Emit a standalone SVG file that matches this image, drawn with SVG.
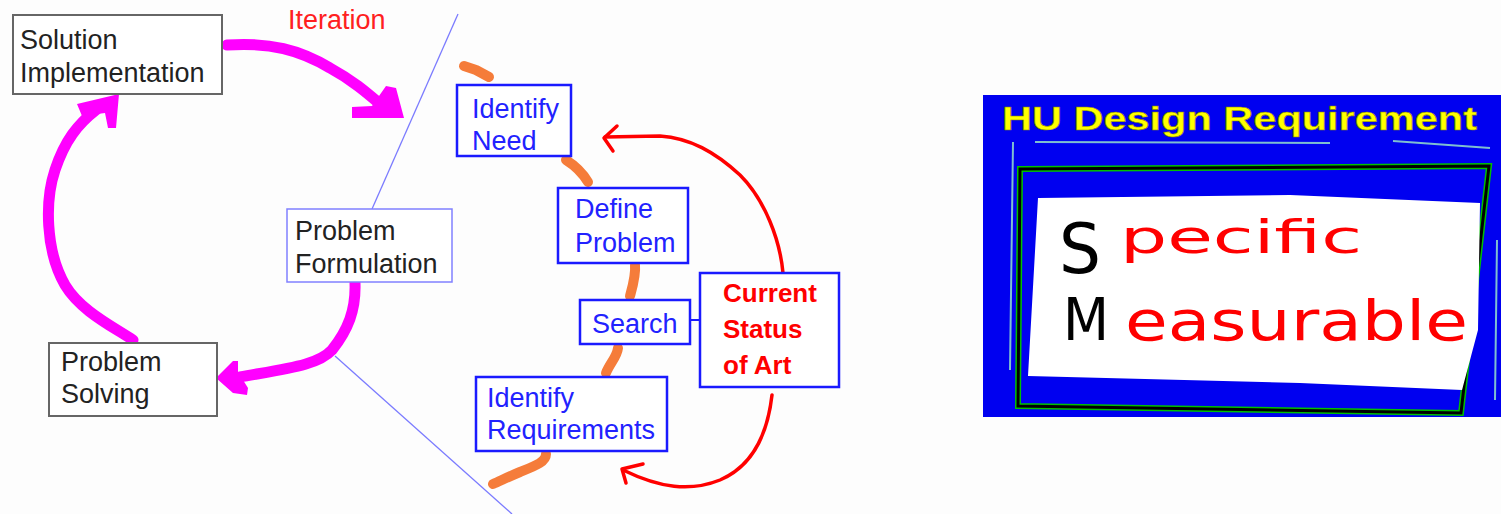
<svg xmlns="http://www.w3.org/2000/svg" width="1501" height="514" viewBox="0 0 1501 514">
<style>
.t{font-family:"Liberation Sans",Arial,sans-serif;font-size:27px}
.gray{fill:#fff;stroke:#666;stroke-width:2}
.blue{fill:#fff;stroke:#1a1aff;stroke-width:2.5}
.bt{fill:#2222ff}
.dk{fill:#222}
.rt{fill:#ff0000;font-weight:bold;font-size:26px}
.mag{fill:none;stroke:#ff00ff;stroke-width:11;stroke-linecap:round;stroke-linejoin:round}
.org{fill:none;stroke:#f57c3a;stroke-width:10;stroke-linecap:round;stroke-linejoin:round}
.red{fill:none;stroke:#ff0000;stroke-width:3.5;stroke-linecap:round;stroke-linejoin:round}
.div{stroke:#7b7bff;stroke-width:1.3;fill:none}
.hand{font-family:"DejaVu Sans","Liberation Sans",sans-serif}
</style>
<rect width="1501" height="514" fill="#fdfdfd"/>
<g id="dividers">
<line class="div" x1="458" y1="14" x2="372" y2="209"/>
<line class="div" x1="335" y1="356" x2="512" y2="514"/>
</g>
<g id="connectors">
<path class="mag" d="M227,45 C270,42 300,50 330,68 C352,80 366,92 380,104"/>
<polygon fill="#ff00ff" points="352,107 372,106 386,86 396,88 404,118 352,118"/>
<path class="mag" d="M133,340 C110,325 80,310 65,285 C45,250 45,200 55,170 C65,140 78,124 96,110"/>
<polygon fill="#ff00ff" points="77,104 119,94 116,128 108,128 105,113 82,116"/>
<path class="mag" d="M355,283 C356,310 348,330 332,350 C318,365 290,368 240,377"/>
<polygon fill="#ff00ff" points="216,378 233,361 238,361 238,372 248,388 247,395 233,393"/>
<path class="org" d="M464,66 L476,70 L489,77"/>
<path class="org" d="M566,160 C574,165 582,172 588,182"/>
<path class="org" d="M635,265 C636,275 633,285 630,296"/>
<path class="org" d="M618,348 C617,357 610,363 606,373"/>
<path class="org" d="M546,454 C546,462 535,466 520,472 C508,477 500,481 493,484"/>
<line x1="690" y1="320" x2="700" y2="320" stroke="#1a1aff" stroke-width="2"/>
<path class="red" d="M783,273 C780,240 765,200 740,175 C715,152 690,138 660,136 L605,137"/>
<path class="red" d="M617,126 L604,138 L613,151"/>
<path class="red" d="M772,395 C768,430 755,465 720,480 C690,492 660,488 623,470"/>
<path class="red" d="M643,464 L622,469 L626,483"/>
</g>
<text class="t" x="288" y="29" fill="#ff2020" font-size="25">Iteration</text>
<g id="solution-implementation">
<rect class="gray" x="13" y="15" width="209" height="79"/>
<text class="t dk" x="20" y="49">Solution</text>
<text class="t dk" x="20" y="82">Implementation</text>
</g>
<g id="problem-formulation">
<rect x="287" y="209" width="165" height="73" fill="#fff" stroke="#8080ff" stroke-width="1.5"/>
<text class="t dk" x="295" y="240">Problem</text>
<text class="t dk" x="295" y="273">Formulation</text>
</g>
<g id="problem-solving">
<rect class="gray" x="49" y="343" width="168" height="73"/>
<text class="t dk" x="61" y="371">Problem</text>
<text class="t dk" x="61" y="403">Solving</text>
</g>
<g id="identify-need">
<rect class="blue" x="457" y="85" width="114" height="71"/>
<text class="t bt" x="472" y="118">Identify</text>
<text class="t bt" x="472" y="150">Need</text>
</g>
<g id="define-problem">
<rect class="blue" x="558" y="188" width="130" height="75"/>
<text class="t bt" x="575" y="218">Define</text>
<text class="t bt" x="575" y="252">Problem</text>
</g>
<g id="search">
<rect class="blue" x="580" y="300" width="110" height="44"/>
<text class="t bt" x="592" y="333">Search</text>
</g>
<g id="current-status">
<rect class="blue" x="700" y="273" width="139" height="114"/>
<text class="t rt" x="723" y="302">Current</text>
<text class="t rt" x="723" y="338">Status</text>
<text class="t rt" x="723" y="374">of Art</text>
</g>
<g id="identify-requirements">
<rect class="blue" x="476" y="377" width="191" height="74"/>
<text class="t bt" x="487" y="407">Identify</text>
<text class="t bt" x="487" y="439">Requirements</text>
</g>
<g id="hu-panel">
<rect x="983" y="95" width="518" height="322" fill="#0000f0"/>
<text x="1002" y="130" font-family="'Liberation Sans',Arial,sans-serif" font-weight="bold" font-size="33" fill="#ffff00" stroke="#808000" stroke-width="0.6" textLength="475" lengthAdjust="spacingAndGlyphs">HU Design Requirement</text>
<path d="M1013,142 L1010,370 M1035,142 L1330,143 M1393,141 L1490,148 M1497,240 L1495,400" stroke="#7fbfd0" stroke-width="2" fill="none"/>
<polygon points="1020,169 1489,166 1461,413 1018,406" fill="#0000f0" stroke="#00c000" stroke-width="6"/>
<polygon points="1020,169 1489,166 1461,413 1018,406" fill="none" stroke="#000" stroke-width="3"/>
<polygon points="1038,198 1290,195 1480,203 1478,330 1462,390 1300,383 1028,376" fill="#ffffff"/>
<text class="hand" x="1059" y="273" font-size="70" fill="#000" textLength="42" lengthAdjust="spacingAndGlyphs">S</text>
<text class="hand" x="1120" y="253" font-size="46" fill="#ff0000" textLength="242" lengthAdjust="spacingAndGlyphs">pecific</text>
<text class="hand" x="1063" y="340" font-size="58" fill="#000" textLength="46" lengthAdjust="spacingAndGlyphs">M</text>
<text class="hand" x="1125" y="340" font-size="55" fill="#ff0000" textLength="343" lengthAdjust="spacingAndGlyphs">easurable</text>
</g>
</svg>
